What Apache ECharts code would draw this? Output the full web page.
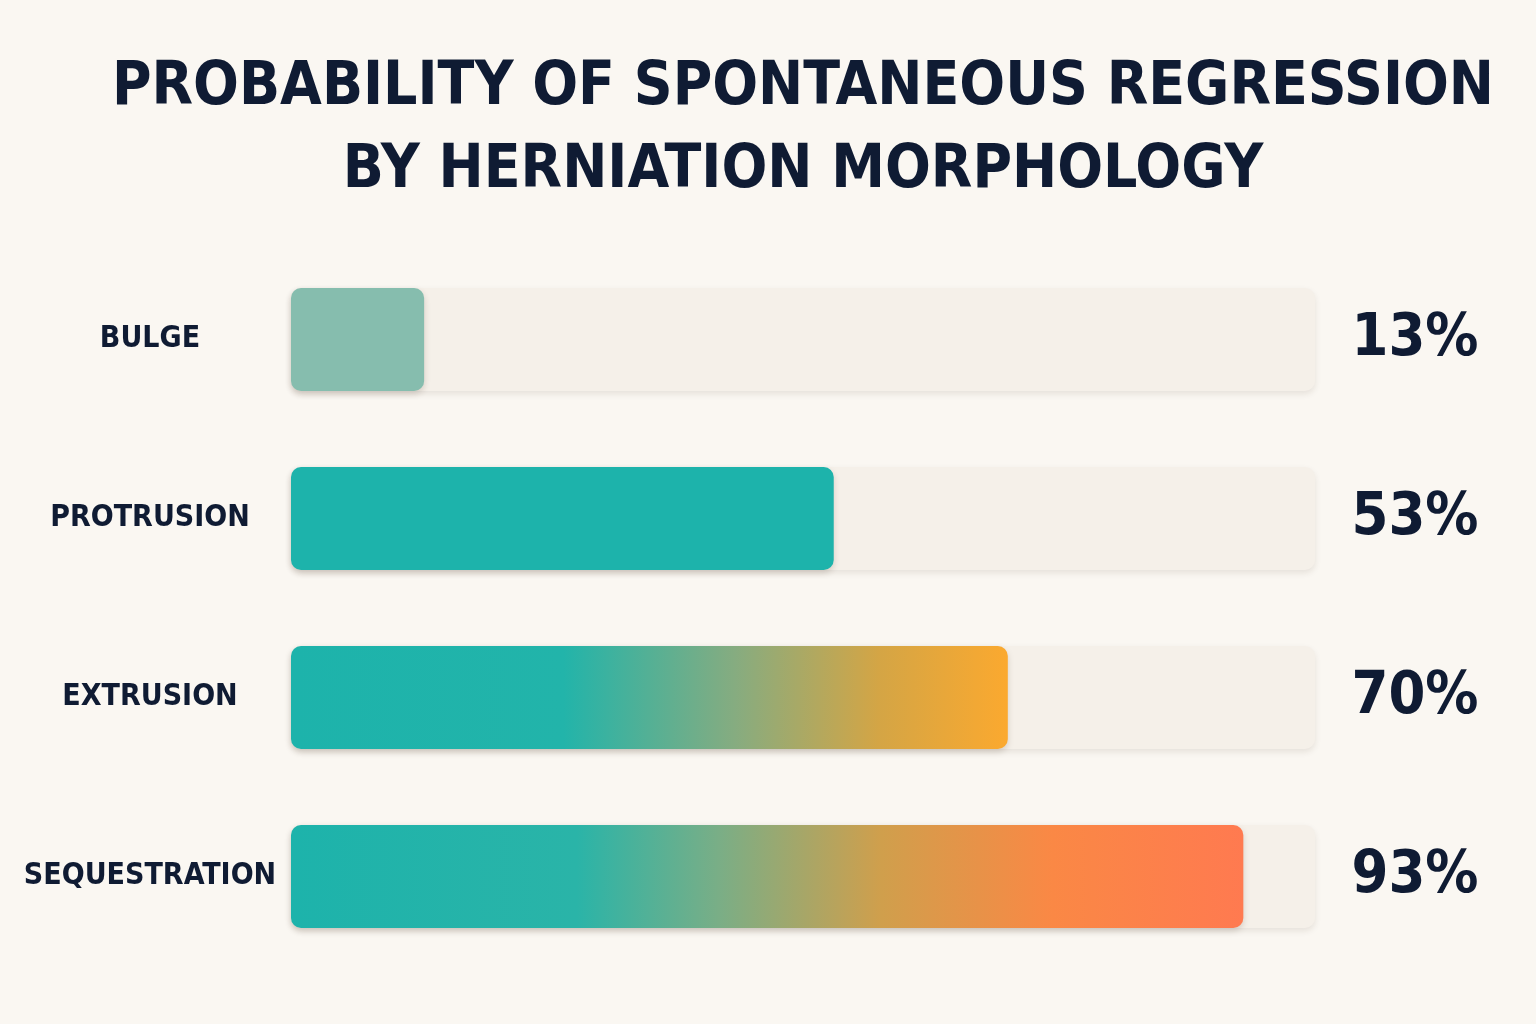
<!DOCTYPE html>
<html>
<head>
<meta charset="utf-8">
<script src="https://cdn.jsdelivr.net/npm/echarts@6/dist/echarts.min.js"></script>
<style>
  html, body { margin: 0; padding: 0; background: #faf7f2; }
  #chart { width: 1536px; height: 1024px; }
</style>
</head>
<body>
<div id="chart"></div>
<script>
const categories = ["BULGE", "PROTRUSION", "EXTRUSION", "SEQUESTRATION"];
const values = [13, 53, 70, 93];
const titleText = "PROBABILITY OF SPONTANEOUS REGRESSION\nBY HERNIATION MORPHOLOGY";

const FONT = '"DejaVu Sans", sans-serif';
// weight string goes straight into the canvas font shorthand, so stretch rides along
const WEIGHT = "bold condensed";
const INK = "#0f1b33";

// per-bar fills: flat sage, flat teal, teal→amber, teal→coral
const fills = [
  "#86bdae",
  "#1db3ab",
  new echarts.graphic.LinearGradient(0, 0, 1, 0, [
    { offset: 0, color: "#1db3ab" },
    { offset: 0.38, color: "#22b4aa" },
    { offset: 0.62, color: "#86ac80" },
    { offset: 0.82, color: "#d4a545" },
    { offset: 1, color: "#fba92f" },
  ]),
  new echarts.graphic.LinearGradient(0, 0, 1, 0, [
    { offset: 0, color: "#1db3ab" },
    { offset: 0.3, color: "#2ab4a8" },
    { offset: 0.45, color: "#7aae86" },
    { offset: 0.62, color: "#d09f4c" },
    { offset: 0.8, color: "#fa8845" },
    { offset: 1, color: "#ff7a50" },
  ]),
];

const chart = echarts.init(document.getElementById("chart"));
chart.setOption({
  backgroundColor: "#faf7f2",
  animation: false,
  title: {
    text: titleText,
    left: 798,
    top: 42,
    textAlign: "center",
    textStyle: {
      fontFamily: FONT,
      fontWeight: WEIGHT,
      fontSize: 60,
      lineHeight: 83,
      color: INK,
    },
  },
  grid: { left: 291, right: 221, top: 250, bottom: 58, containLabel: false, outerBoundsMode: "none" },
  xAxis: {
    type: "value",
    min: 0,
    max: 100,
    show: false,
  },
  yAxis: [
    {
      type: "category",
      data: categories,
      inverse: true,
      axisLine: { show: false },
      axisTick: { show: false },
      axisLabel: {
        margin: 141,
        align: "center",
        fontFamily: FONT,
        fontWeight: WEIGHT,
        fontSize: 30,
        color: INK,
      },
    },
    {
      type: "category",
      data: categories,
      inverse: true,
      position: "right",
      axisLine: { show: false },
      axisTick: { show: false },
      axisLabel: {
        margin: 100,
        align: "center",
        fontFamily: FONT,
        fontWeight: WEIGHT,
        fontSize: 59,
        color: INK,
        formatter: (v, i) => values[i] + "%",
      },
    },
  ],
  series: [
    {
      type: "bar",
      barWidth: 103,
      data: values.map((v, i) => ({
        value: v,
        itemStyle: { color: fills[i] },
      })),
      itemStyle: {
        borderRadius: 10,
        shadowBlur: 6,
        shadowOffsetY: 3,
        shadowColor: "rgba(60,40,20,0.18)",
      },
      showBackground: true,
      backgroundStyle: {
        color: "#f5f0e9",
        borderRadius: 10,
        shadowBlur: 6,
        shadowOffsetY: 3,
        shadowColor: "rgba(60,40,20,0.10)",
      },
    },
  ],
});
</script>
</body>
</html>
